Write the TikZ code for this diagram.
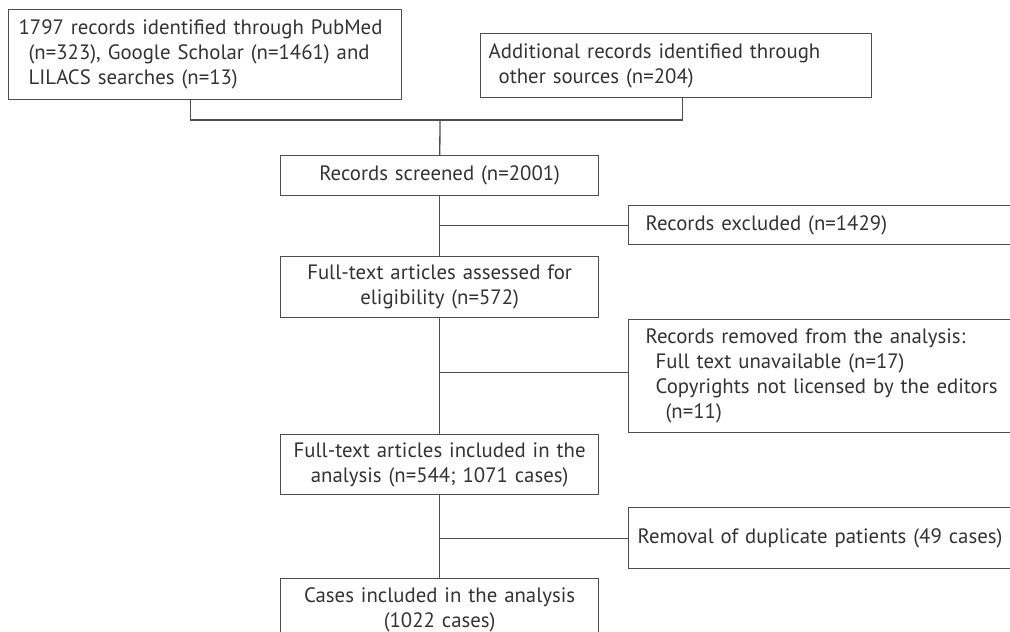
\documentclass[tikz,border=0pt]{standalone}
\usepackage{fontspec}
\setmainfont{PT Sans}
\usetikzlibrary{positioning}
\usetikzlibrary{calc}
\definecolor{ink}{HTML}{333333}
\definecolor{rule}{HTML}{4D4D4D}

\begin{document}
\begin{tikzpicture}[x=1pt,y=-1pt,line width=1.3pt,draw=rule,
			font=\fontsize{20.8}{25}\selectfont]
			\tikzstyle{box}=[draw=rule,text=ink,inner ysep=0pt,anchor=north west]
			\tikzstyle{mid}=[box,align=center,inner xsep=5pt,text width=308pt]
			\tikzstyle{side}=[box,align=left,inner xsep=17pt,text width=380pt]
			
			\useasboundingbox (0,0) rectangle (1010,632);
			\clip (0,0) rectangle (1010,632);
			
			\node[box,align=left,inner xsep=10pt,text width=373pt,minimum height=90pt]
				(R_db) at (8,9) {1797 records identified through PubMed\\
				\hspace*{10pt}(n=323), Google Scholar (n=1461) and\\
				\hspace*{10pt}LILACS searches (n=13)};
			\node[box,align=left,inner xsep=8pt,text width=375pt,minimum height=64pt]
				(R_other) at (480,33) {Additional records identified through\\
				\hspace*{10pt}other sources (n=204)};
			\coordinate (J) at (440,120);
			
			\node[mid,minimum height=40pt]  (S_1) at (280,155) {Records screened (n=2001)};
			\node[side,minimum height=39pt] (X_1) at (628,205) {Records excluded (n=1429)};
			\node[mid,minimum height=61pt]  (S_2) at (280,256) {Full-text articles assessed for\\ eligibility (n=572)};
			\node[side,minimum height=113pt] (X_2) at (628,319) {Records removed from the analysis:\\
				\hspace*{10pt}Full text unavailable (n=17)\\
				\hspace*{10pt}Copyrights not licensed by the editors\\
				\hspace*{20pt}(n=11)};
			\node[mid,minimum height=60pt]  (S_3) at (280,434) {Full-text articles included in the\\ analysis (n=544; 1071 cases)};
			\node[side,inner xsep=9pt,text width=400pt,minimum height=61pt] (X_3) at (628,507) {Removal of duplicate patients (49 cases)};
			\node[mid,minimum height=62pt]  (S_4) at (280,578) {Cases included in the analysis\\ (1022 cases)};
			
			\draw ([xshift=-15pt]R_db.south) |- (J) -| ([xshift=6pt]R_other.south);
			\draw (J) -- (S_1);
			\draw (S_1) -- (S_2);
			\draw (S_2) -- (S_3);
			\draw (S_3) -- (S_4);
			\draw ([yshift=-0.5pt]X_1.west -| S_1.south) -- ([yshift=-0.5pt]X_1.west);
			\draw ([yshift=3.5pt]X_2.west -| S_2.south) -- ([yshift=3.5pt]X_2.west);
			\draw (X_3.west -| S_3.south) -- (X_3.west);
			\end{tikzpicture}
\end{document}
